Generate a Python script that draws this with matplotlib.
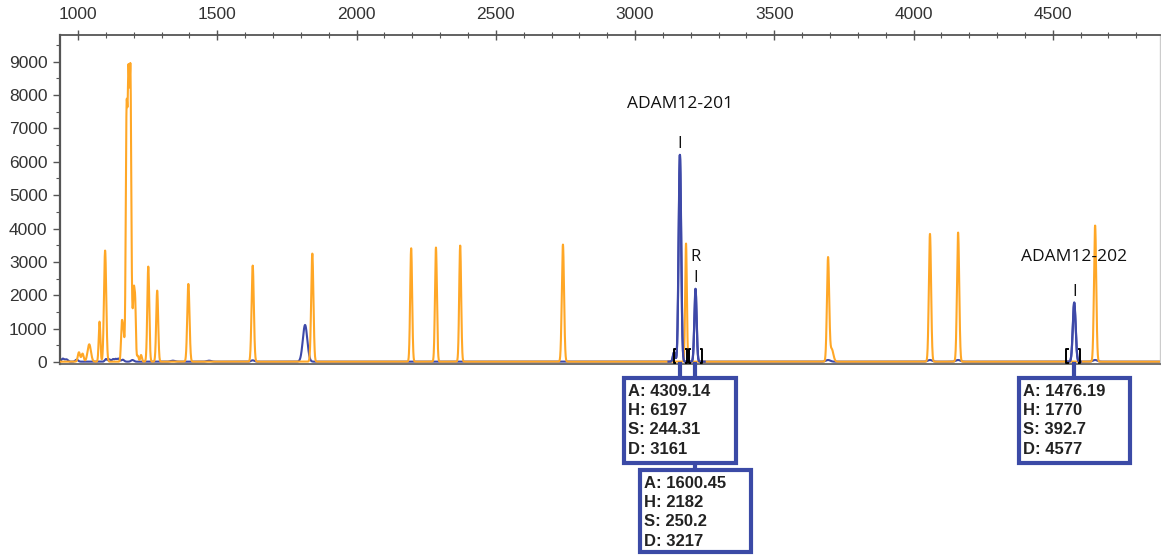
import numpy as np
import matplotlib
matplotlib.use('Agg')
import matplotlib.pyplot as plt
from matplotlib.ticker import MultipleLocator
from matplotlib.transforms import blended_transform_factory
from matplotlib.patches import Rectangle
from matplotlib.lines import Line2D

plt.rcParams['font.family'] = ['Liberation Sans', 'DejaVu Sans']

# orange trace peaks (size, height, width)
orange_pos = [1003, 1016, 1040, 1077, 1097, 1157, 1163, 1174, 1181, 1188, 1195, 1200, 1205,
              1214, 1226, 1252, 1284, 1396, 1627, 1841, 2196, 2285, 2372, 2741, 3183,
              3693, 3706, 4059, 4160, 4652]
orange_h = [280, 240, 520, 1200, 3330, 1100, 850, 7200, 7900, 8300, 900, 1900, 1700,
            180, 200, 2850, 2130, 2330, 2880, 3240, 3400, 3420, 3480, 3510, 3540,
            3100, 380, 3830, 3870, 4080]
orange_w = [4, 4, 6, 3, 4, 3, 3, 3, 3, 3, 2.5, 2.5, 2.5,
            3, 3, 3.5, 3.5, 4, 4, 4, 3.5, 3.5, 3.5, 4, 3,
            4, 6, 4, 4, 4]

# blue trace peaks
blue_pos = [945, 958, 995, 1100, 1112, 1125, 1135, 1145, 1160, 1195, 1340, 1470,
            1627, 1815, 3140, 3161, 3217, 3693, 4059, 4160, 4577, 4652]
blue_h = [90, 70, 60, 80, 70, 75, 80, 90, 60, 50, 30, 30,
          40, 1100, 280, 6197, 2182, 50, 50, 50, 1770, 50]
blue_w = [5, 5, 5, 4, 4, 4, 4, 4, 5, 5, 8, 8,
          6, 8, 4, 4.5, 4, 8, 8, 8, 5, 8]

# annotated peaks
peak_names = ['ADAM12-201', '', 'ADAM12-202']
peak_D = [3161, 3217, 4577]
peak_H = [6197, 2182, 1770]
peak_A = ['4309.14', '1600.45', '1476.19']
peak_S = ['244.31', '250.2', '392.7']
peak_letter = ['', 'R', '']
brackets = [(3140, 3187), (3194, 3241), (4548, 4598)]

orange = '#ffa726'
blue = '#3e49a8'
boxblue = '#3b4aa6'

fig = plt.figure(figsize=(11.61, 5.55), dpi=100)
ax = fig.add_axes([60 / 1161, 1 - 364 / 555, 1100 / 1161, 329 / 555])

x = np.linspace(935, 4885, 12000)


def trace(pos, h, w):
    y = np.full_like(x, 10.0)
    for p, a, s in zip(pos, h, w):
        y += a * np.exp(-0.5 * ((x - p) / s) ** 2)
    return y


yb = trace(blue_pos, blue_h, blue_w)
ax.plot(x, yb, color=blue, lw=1.5, zorder=2)
ax.plot(x, trace(orange_pos, orange_h, orange_w), color=orange, lw=1.5, zorder=3)
# blue annotated peaks drawn on top
mask = (x > 3120) & (x < 3250) | (x > 4550) & (x < 4600)
ax.plot(np.where(mask, x, np.nan), yb, color=blue, lw=1.6, zorder=4)

ax.set_xlim(935, 4885)
ax.set_ylim(-60, 9800)

ax.xaxis.set_major_locator(MultipleLocator(500))
ax.xaxis.set_minor_locator(MultipleLocator(100))
ax.yaxis.set_major_locator(MultipleLocator(1000))
ax.yaxis.set_minor_locator(MultipleLocator(500))
ax.xaxis.tick_top()
ax.tick_params(axis='x', which='major', direction='inout', length=7, width=1, color='#555555',
               labelsize=12.5, labelcolor='#333333', pad=6)
ax.tick_params(axis='x', which='minor', direction='inout', length=4, width=0.8, color='#555555')
ax.tick_params(axis='y', which='major', direction='out', length=5, width=1, color='#555555',
               labelsize=12.5, labelcolor='#333333', pad=4)
ax.tick_params(axis='y', which='minor', direction='out', length=3, width=0.8, color='#555555')

ax.spines['left'].set_color('#555555')
ax.spines['left'].set_linewidth(1.6)
ax.spines['top'].set_color('#555555')
ax.spines['top'].set_linewidth(1.3)
ax.spines['bottom'].set_color('#666666')
ax.spines['bottom'].set_linewidth(1.3)
ax.spines['right'].set_color('#cccccc')
ax.spines['right'].set_linewidth(1)

# labels above peaks
ax.text(peak_D[0], 7720, peak_names[0], ha='center', va='center', fontsize=12.5,
        family='Open Sans', color='#111111')
ax.text(peak_D[2], 3150, peak_names[2], ha='center', va='center', fontsize=12.5,
        family='Open Sans', color='#111111')
for d, h, let in zip(peak_D, peak_H, peak_letter):
    ax.text(d, h + 330, 'I', ha='center', va='center', fontsize=12, family='Open Sans',
            color='#111111')
    if let:
        ax.text(d, h + 950, let, ha='center', va='center', fontsize=12, family='Open Sans',
                color='#111111')

# integration brackets on the baseline
for x0, x1 in brackets:
    dx = 5
    ax.plot([x0 + dx, x0, x0, x0 + dx], [380, 380, -40, -40], color='black', lw=1.4, zorder=5,
            clip_on=False)
    ax.plot([x1 - dx, x1, x1, x1 - dx], [380, 380, -40, -40], color='black', lw=1.4, zorder=5,
            clip_on=False)

# info boxes below the axes (x in data, y in figure pixels)
tr = blended_transform_factory(ax.transData, fig.transFigure)
H = 555.0
box_top = [378, 470, 378]
box_bot = [463, 552, 463]
conn_top = [364, 463, 364]

for i in range(3):
    left = peak_D[i] - 200
    rect = Rectangle((left, 1 - box_bot[i] / H), 400, (box_bot[i] - box_top[i]) / H,
                     transform=tr, fill=True, facecolor='white', edgecolor=boxblue,
                     lw=3, clip_on=False, zorder=6)
    fig.add_artist(rect)
    fig.add_artist(Line2D([peak_D[i], peak_D[i]], [1 - conn_top[i] / H, 1 - box_top[i] / H],
                          transform=tr, color=boxblue, lw=3, zorder=5))
    lines = ['A: ' + peak_A[i], 'H: ' + str(peak_H[i]), 'S: ' + peak_S[i], 'D: ' + str(peak_D[i])]
    for k, s in enumerate(lines):
        fig.text(left + 15, 1 - (box_top[i] + 13 + 19.5 * k) / H, s, transform=tr,
                 ha='left', va='center', fontsize=12, fontweight='bold',
                 color='#222222', zorder=7)

# connector from the axis down to the first box for the 3217 peak
fig.add_artist(Line2D([peak_D[1], peak_D[1]], [1 - 364 / H, 1 - 378 / H],
                      transform=tr, color=boxblue, lw=3, zorder=5))

fig.savefig('out.png', dpi=100)
